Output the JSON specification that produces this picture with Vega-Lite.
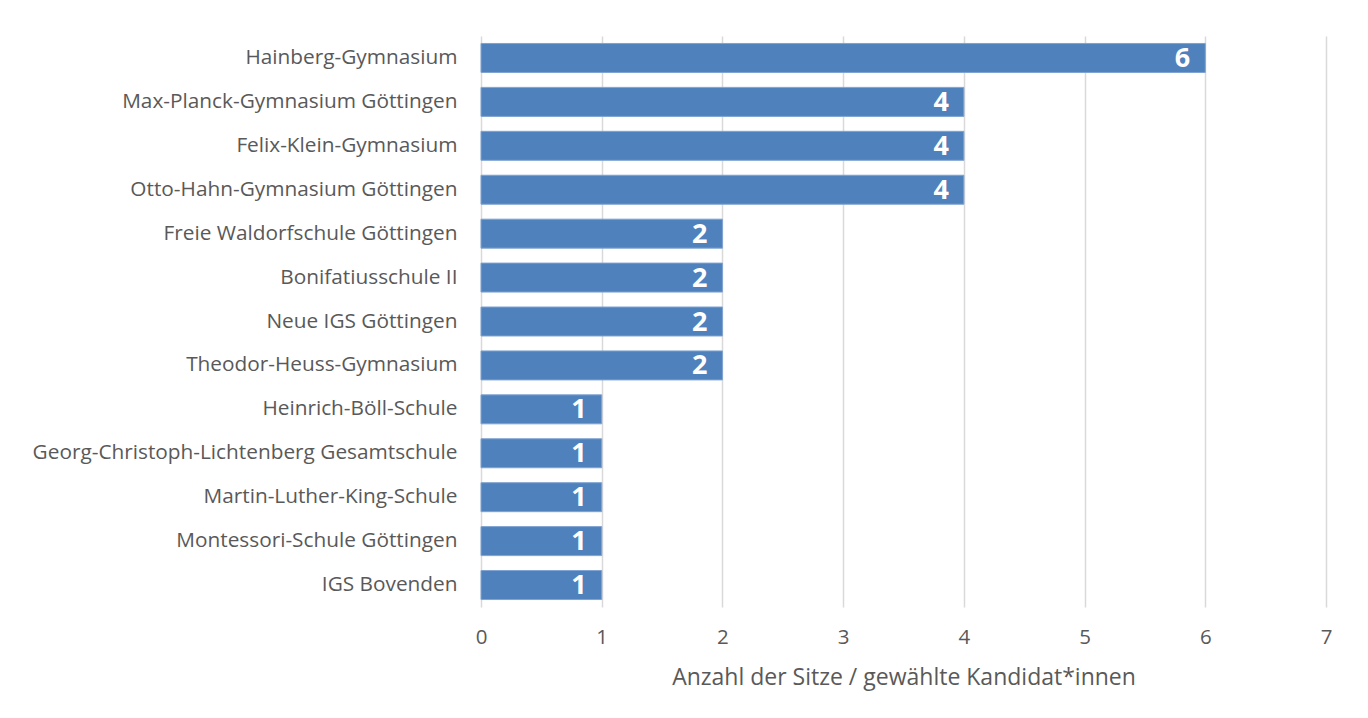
{
  "$schema": "https://vega.github.io/schema/vega-lite/v6.json",
  "autosize": "none",
  "width": 845,
  "height": 571,
  "padding": {"left": 481, "top": 36, "right": 42, "bottom": 111},
  "background": "white",
  "config": {
    "view": {"stroke": null},
    "font": "Open Sans"
  },
  "data": {
    "values": [
      {"schule": "Hainberg-Gymnasium", "sitze": 6},
      {"schule": "Max-Planck-Gymnasium Göttingen", "sitze": 4},
      {"schule": "Felix-Klein-Gymnasium", "sitze": 4},
      {"schule": "Otto-Hahn-Gymnasium Göttingen", "sitze": 4},
      {"schule": "Freie Waldorfschule Göttingen", "sitze": 2},
      {"schule": "Bonifatiusschule II", "sitze": 2},
      {"schule": "Neue IGS Göttingen", "sitze": 2},
      {"schule": "Theodor-Heuss-Gymnasium", "sitze": 2},
      {"schule": "Heinrich-Böll-Schule", "sitze": 1},
      {"schule": "Georg-Christoph-Lichtenberg Gesamtschule", "sitze": 1},
      {"schule": "Martin-Luther-King-Schule", "sitze": 1},
      {"schule": "Montessori-Schule Göttingen", "sitze": 1},
      {"schule": "IGS Bovenden", "sitze": 1}
    ]
  },
  "encoding": {
    "y": {
      "field": "schule",
      "type": "nominal",
      "sort": null,
      "title": null,
      "scale": {"paddingInner": 0.34, "paddingOuter": 0.17},
      "axis": {
        "domain": false,
        "ticks": false,
        "labelPadding": 24,
        "labelFontSize": 20.8,
        "labelColor": "#595959",
        "labelFont": "Open Sans",
        "labelLimit": 480
      }
    },
    "x": {
      "field": "sitze",
      "type": "quantitative",
      "scale": {"domain": [0, 7], "nice": false},
      "title": "Anzahl der Sitze / gewählte Kandidat*innen",
      "axis": {
        "values": [0, 1, 2, 3, 4, 5, 6, 7],
        "format": "d",
        "domain": false,
        "ticks": false,
        "grid": true,
        "gridColor": "#D9D9D9",
        "gridWidth": 1.5,
        "labelFlush": false,
        "labelPadding": 20,
        "labelFontSize": 20.5,
        "labelColor": "#595959",
        "titleFontSize": 23,
        "titleFontWeight": "normal",
        "titleColor": "#595959",
        "titlePadding": 19
      }
    }
  },
  "layer": [
    {
      "mark": {"type": "bar", "color": "#4F81BD", "stroke": "#7FA3D1", "strokeWidth": 1}
    },
    {
      "mark": {"type": "text", "align": "right", "baseline": "middle", "dx": -15, "dy": 1, "color": "white", "fontWeight": "bold", "fontSize": 27},
      "encoding": {"text": {"field": "sitze", "type": "quantitative"}}
    }
  ]
}
